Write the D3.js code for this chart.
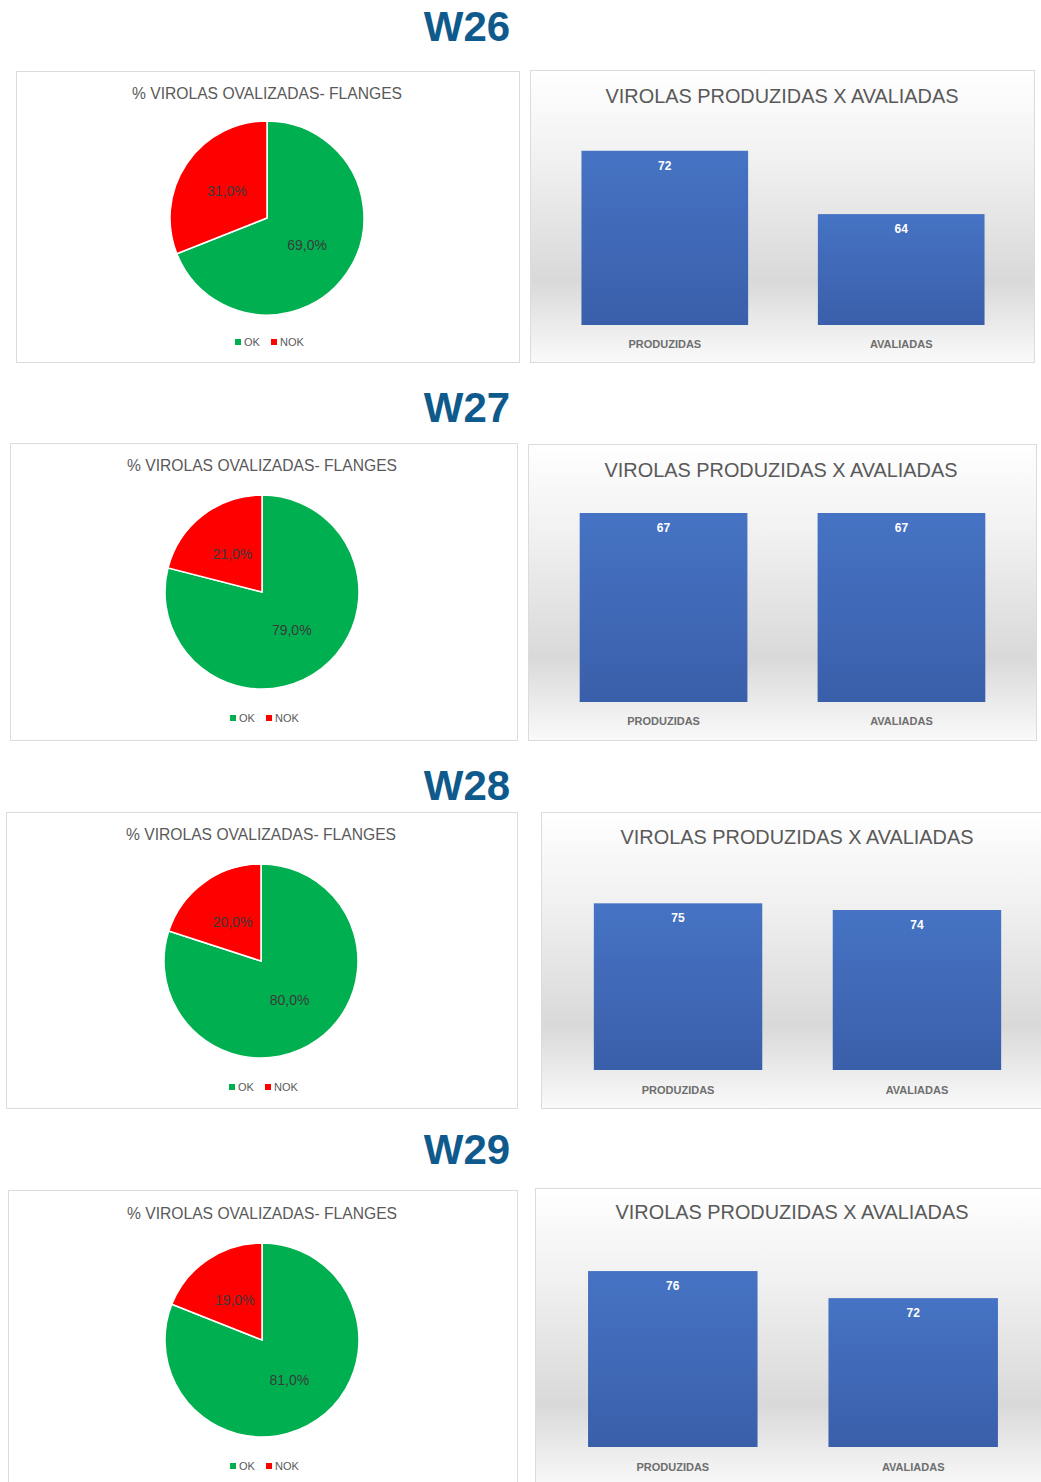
<!DOCTYPE html>
<html>
<head>
<meta charset="utf-8">
<script src="https://cdn.jsdelivr.net/npm/d3@7"></script>
<style>
  body { margin: 0; background: #ffffff; }
  svg { display: block; font-family: "Liberation Sans", Arial, sans-serif; }
</style>
</head>
<body>
<svg id="page"></svg>
<script>
// data
var weeks = ["W26", "W27", "W28", "W29"];
var pieCategories = ["OK", "NOK"];
var okPct = [69, 79, 80, 81];
var nokPct = [31, 21, 20, 19];
var barCategories = ["PRODUZIDAS", "AVALIADAS"];
var produzidas = [72, 67, 75, 76];
var avaliadas = [64, 67, 74, 72];
// value axis of each column chart (hidden axis, does not start at zero)
var axisMin = [50, 60, 50, 50];
var axisMax = [75, 68, 80, 80];

var pieTitle = "% VIROLAS OVALIZADAS- FLANGES";
var barTitle = "VIROLAS PRODUZIDAS X AVALIADAS";

// layout of each week block
var layout = [
  {titleY: 26,  pie: {x: 16, y: 71, w: 503, h: 291, cx: 267, cy: 218, titleY: 93, legendY: 342},
               bar: {x: 530, y: 70, w: 504, h: 292, cx: 782, titleY: 96, left: 546, right: 1020, top: 127, bottom: 325, labelY: 344}},
  {titleY: 407, pie: {x: 10, y: 443, w: 507, h: 297, cx: 262, cy: 592, titleY: 465, legendY: 718},
               bar: {x: 528, y: 444, w: 508, h: 296, cx: 781, titleY: 470, left: 544, right: 1021, top: 486, bottom: 702, labelY: 721}},
  {titleY: 785, pie: {x: 6, y: 812, w: 511, h: 296, cx: 261, cy: 961, titleY: 834, legendY: 1087},
               bar: {x: 541, y: 812, w: 505, h: 296, cx: 797, titleY: 837, left: 558, right: 1037, top: 870, bottom: 1070, labelY: 1090}},
  {titleY: 1149, pie: {x: 8, y: 1190, w: 509, h: 300, cx: 262, cy: 1340, titleY: 1213, legendY: 1466},
               bar: {x: 535, y: 1188, w: 511, h: 300, cx: 792, titleY: 1212, left: 552, right: 1034, top: 1244, bottom: 1447, labelY: 1467}}
];

var width = 1041, height = 1482;
var radius = 97;
var pieColors = d3.scaleOrdinal().domain(pieCategories).range(["#00b050", "#ff0000"]);
var fmtPct = function(v) { return d3.format(".1f")(v).replace(".", ",") + "%"; };

var svg = d3.select("#page").attr("width", width).attr("height", height);

var defs = svg.append("defs");
var bg = defs.append("linearGradient").attr("id", "panelBg")
    .attr("x1", 0).attr("y1", 0).attr("x2", 0).attr("y2", 1);
bg.append("stop").attr("offset", "0%").attr("stop-color", "#ffffff");
bg.append("stop").attr("offset", "30%").attr("stop-color", "#f1f1f1");
bg.append("stop").attr("offset", "72%").attr("stop-color", "#d9d9d9");
bg.append("stop").attr("offset", "100%").attr("stop-color", "#fafafa");

var barGrad = defs.append("linearGradient").attr("id", "barFill")
    .attr("x1", 0).attr("y1", 0).attr("x2", 0).attr("y2", 1);
barGrad.append("stop").attr("offset", "0%").attr("stop-color", "#4673c4");
barGrad.append("stop").attr("offset", "100%").attr("stop-color", "#3a5faa");

var pie = d3.pie().sort(null).value(function(d) { return d.value; });
var arc = d3.arc().innerRadius(0).outerRadius(radius);
var labelArc = d3.arc().innerRadius(radius * 0.5).outerRadius(radius * 0.5);

weeks.forEach(function(week, i) {
  var L = layout[i];

  // week heading
  svg.append("text")
     .text(week)
     .attr("x", 467)
     .attr("y", L.titleY)
     .attr("text-anchor", "middle")
     .attr("dominant-baseline", "central")
     .attr("font-size", 42)
     .attr("font-weight", "bold")
     .attr("fill", "#0f5a8c");

  // ---- pie panel ----
  var P = L.pie;
  svg.append("rect")
     .attr("x", P.x + 0.5).attr("y", P.y + 0.5)
     .attr("width", P.w).attr("height", P.h)
     .attr("fill", "#ffffff")
     .attr("stroke", "#dcdcdc");

  svg.append("text")
     .text(pieTitle)
     .attr("x", P.cx).attr("y", P.titleY)
     .attr("text-anchor", "middle")
     .attr("dominant-baseline", "central")
     .attr("font-size", 16)
     .attr("textLength", 270)
     .attr("lengthAdjust", "spacingAndGlyphs")
     .attr("fill", "#595959");

  var pieData = [{key: "OK", value: okPct[i]}, {key: "NOK", value: nokPct[i]}];
  var g = svg.append("g").attr("transform", "translate(" + P.cx + "," + P.cy + ")");
  g.selectAll("path")
   .data(pie(pieData))
   .enter()
   .append("path")
   .attr("d", arc)
   .attr("fill", function(d) { return pieColors(d.data.key); })
   .attr("stroke", "#ffffff")
   .attr("stroke-width", 1.5);

  g.selectAll("text")
   .data(pie(pieData))
   .enter()
   .append("text")
   .text(function(d) { return fmtPct(d.data.value); })
   .attr("transform", function(d) { return "translate(" + labelArc.centroid(d) + ")"; })
   .attr("text-anchor", "middle")
   .attr("dominant-baseline", "central")
   .attr("font-size", 14)
   .attr("fill", "#3a3a3a");

  // legend
  var legend = svg.append("g").attr("transform", "translate(" + P.cx + "," + P.legendY + ")");
  var legX = d3.scaleOrdinal().domain(pieCategories).range([-32, 4]);
  var items = legend.selectAll("g")
     .data(pieCategories)
     .enter()
     .append("g")
     .attr("transform", function(d) { return "translate(" + legX(d) + ",0)"; });
  items.append("rect")
     .attr("x", 0).attr("y", -3)
     .attr("width", 6).attr("height", 6)
     .attr("fill", function(d) { return pieColors(d); });
  items.append("text")
     .text(function(d) { return d; })
     .attr("x", 9)
     .attr("dominant-baseline", "central")
     .attr("font-size", 11)
     .attr("fill", "#595959");

  // ---- column panel ----
  var B = L.bar;
  svg.append("rect")
     .attr("x", B.x + 0.5).attr("y", B.y + 0.5)
     .attr("width", B.w).attr("height", B.h)
     .attr("fill", "url(#panelBg)")
     .attr("stroke", "#dcdcdc");

  svg.append("text")
     .text(barTitle)
     .attr("x", B.cx).attr("y", B.titleY)
     .attr("text-anchor", "middle")
     .attr("dominant-baseline", "central")
     .attr("font-size", 20)
     .attr("textLength", 353)
     .attr("lengthAdjust", "spacingAndGlyphs")
     .attr("fill", "#595959");

  var barData = [{key: barCategories[0], value: produzidas[i]},
                 {key: barCategories[1], value: avaliadas[i]}];

  var xScale = d3.scaleBand()
      .domain(barCategories)
      .range([B.left, B.right])
      .paddingInner(0.295)
      .paddingOuter(0.15);
  var yScale = d3.scaleLinear()
      .domain([axisMin[i], axisMax[i]])
      .range([B.bottom, B.top]);

  svg.append("g").selectAll("rect")
     .data(barData)
     .enter()
     .append("rect")
     .attr("x", function(d) { return xScale(d.key); })
     .attr("y", function(d) { return yScale(d.value); })
     .attr("width", xScale.bandwidth())
     .attr("height", function(d) { return B.bottom - yScale(d.value); })
     .attr("fill", "url(#barFill)");

  svg.append("g").selectAll("text")
     .data(barData)
     .enter()
     .append("text")
     .text(function(d) { return d.value; })
     .attr("x", function(d) { return xScale(d.key) + xScale.bandwidth() / 2; })
     .attr("y", function(d) { return yScale(d.value) + 15; })
     .attr("text-anchor", "middle")
     .attr("dominant-baseline", "central")
     .attr("font-size", 12)
     .attr("font-weight", "bold")
     .attr("fill", "#ffffff");

  var xAxis = d3.axisBottom(xScale).tickSize(0).tickPadding(0);
  var ax = svg.append("g")
     .attr("transform", "translate(0," + B.labelY + ")")
     .call(xAxis);
  ax.select(".domain").remove();
  ax.selectAll("text")
    .attr("dy", null)
    .attr("y", 0)
    .attr("dominant-baseline", "central")
    .attr("font-size", 11)
    .attr("font-weight", "bold")
    .attr("font-family", "Liberation Sans, Arial, sans-serif")
    .attr("fill", "#6e6e6e");
});
</script>
</body>
</html>
